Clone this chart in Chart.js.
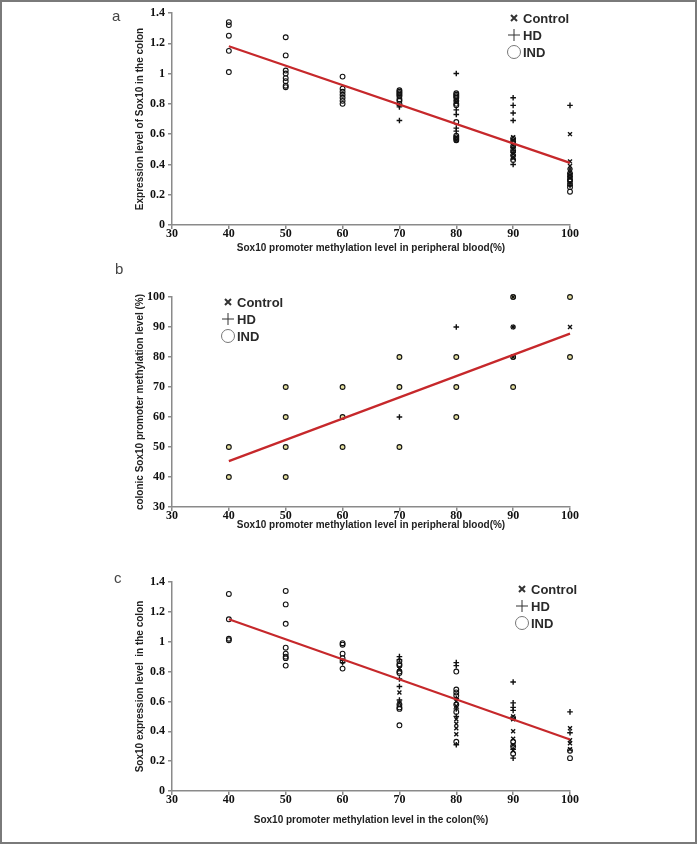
<!DOCTYPE html>
<html>
<head>
<meta charset="utf-8">
<script src="https://cdn.jsdelivr.net/npm/chart.js@4.4.0/dist/chart.umd.min.js"></script>
<style>
  body { margin: 0; background: #fff; position: relative; width: 697px; height: 844px; overflow: hidden; }
  canvas { position: absolute; left: 0; }
  #frame { position: absolute; left: 0; top: 0; width: 697px; height: 844px; box-sizing: border-box; border: 2px solid #7a7a7a; pointer-events: none; }
  .tag { position: absolute; font: 15px "Liberation Sans", Arial, sans-serif; color: #444; line-height: 1; }
</style>
</head>
<body>
<canvas id="chartA" width="697" height="260" style="top:0"></canvas>
<canvas id="chartB" width="697" height="271" style="top:260px"></canvas>
<canvas id="chartC" width="697" height="300" style="top:540px"></canvas>
<div class="tag" style="left:112px;top:8px">a</div>
<div class="tag" style="left:115px;top:261px">b</div>
<div class="tag" style="left:114px;top:570px">c</div>
<div id="frame"></div>
<script>
// x axis: methylation level (%)
const xTicks = [30, 40, 50, 60, 70, 80, 90, 100];

// panel a: methylation in blood vs Sox10 expression in colon
const aControl = [[80,0.83],[80,0.81],[80,0.58],[80,0.56],[90,0.58],[90,0.56],[90,0.53],[90,0.50],[90,0.47],[90,0.45],[90,0.44],
  [100,0.60],[100,0.42],[100,0.39],[100,0.35],[100,0.33],[100,0.31],[100,0.28]];
const aHD = [[70,0.79],[70,0.78],[70,0.69],[80,1.0],[80,0.76],[80,0.73],[80,0.64],[80,0.62],
  [90,0.84],[90,0.79],[90,0.74],[90,0.69],[90,0.51],[90,0.48],[90,0.40],[100,0.79],[100,0.37],[100,0.26]];
const aIND = [[40,1.34],[40,1.32],[40,1.25],[40,1.15],[40,1.01],
  [50,1.24],[50,1.12],[50,1.02],[50,1.0],[50,0.97],[50,0.95],[50,0.92],[50,0.91],
  [60,0.98],[60,0.90],[60,0.88],[60,0.86],[60,0.84],[60,0.82],[60,0.80],
  [70,0.89],[70,0.88],[70,0.87],[70,0.86],[70,0.85],[70,0.83],[70,0.82],[70,0.80],
  [80,0.87],[80,0.86],[80,0.85],[80,0.84],[80,0.82],[80,0.80],[80,0.79],[80,0.68],[80,0.59],[80,0.58],[80,0.57],[80,0.56],
  [90,0.57],[90,0.55],[90,0.52],[90,0.49],[90,0.46],[90,0.43],
  [100,0.34],[100,0.32],[100,0.30],[100,0.29],[100,0.27],[100,0.25],[100,0.22]];
const aFit = [[40,1.18],[100,0.41]];

// panel b: methylation in blood vs methylation in colon
const bControl = [[90,100],[90,90],[90,80],[100,90]];
const bHD = [[70,60],[80,90],[90,90]];
const bIND = [[40,50],[40,40],[50,70],[50,60],[50,50],[50,40],[60,70],[60,60],[60,50],
  [70,80],[70,70],[70,50],[80,80],[80,70],[80,60],[90,100],[90,80],[90,70],[100,100],[100,80]];
const bFit = [[40,45.3],[100,87.8]];

// panel c: methylation in colon vs Sox10 expression in colon
const cControl = [[70,0.82],[70,0.66],[70,0.59],[80,0.60],[80,0.57],[80,0.48],[80,0.45],[80,0.42],[80,0.38],
  [90,0.50],[90,0.48],[90,0.40],[90,0.35],[90,0.31],[90,0.27],[100,0.42],[100,0.34],[100,0.32],[100,0.28]];
const cHD = [[60,0.86],[70,0.90],[70,0.88],[70,0.75],[70,0.70],[70,0.61],[80,0.86],[80,0.84],[80,0.62],[80,0.55],[80,0.50],[80,0.31],
  [90,0.73],[90,0.59],[90,0.56],[90,0.54],[90,0.28],[90,0.22],[100,0.53],[100,0.39]];
const cIND = [[40,1.32],[40,1.15],[40,1.02],[40,1.01],
  [50,1.34],[50,1.25],[50,1.12],[50,0.96],[50,0.92],[50,0.90],[50,0.89],[50,0.84],
  [60,0.99],[60,0.98],[60,0.92],[60,0.89],[60,0.87],[60,0.82],
  [70,0.87],[70,0.85],[70,0.84],[70,0.80],[70,0.79],[70,0.58],[70,0.56],[70,0.55],[70,0.44],
  [80,0.80],[80,0.68],[80,0.66],[80,0.64],[80,0.58],[80,0.53],[80,0.33],
  [90,0.49],[90,0.33],[90,0.30],[90,0.25],[100,0.27],[100,0.22]];
const cFit = [[40,1.15],[100,0.345]];

const legendLabels = ['Control', 'HD', 'IND'];

const toPts = arr => arr.map(([x, y]) => ({ x, y }));
const ink = '#111';
const axisGray = '#8a8a8a';

// draws the x / + / o key at a fixed spot on the canvas
const markerLegend = {
  id: 'markerLegend',
  afterDraw(chart, args, opts) {
    const ctx = chart.ctx;
    const { x, y, gap } = opts;
    ctx.save();
    ctx.fillStyle = '#2a2a2a';
    ctx.font = 'bold 13px "Liberation Sans", Arial, sans-serif';
    ctx.textBaseline = 'middle';
    legendLabels.forEach((lab, i) => {
      const cy = y + i * gap;
      ctx.strokeStyle = i === 2 ? '#777' : '#333';
      ctx.beginPath();
      if (i === 0) {
        ctx.lineWidth = 2;
        ctx.moveTo(x - 3, cy - 3); ctx.lineTo(x + 3, cy + 3);
        ctx.moveTo(x + 3, cy - 3); ctx.lineTo(x - 3, cy + 3);
      } else if (i === 1) {
        ctx.lineWidth = 1;
        ctx.moveTo(x - 6, cy); ctx.lineTo(x + 6, cy);
        ctx.moveTo(x, cy - 6); ctx.lineTo(x, cy + 6);
      } else {
        ctx.lineWidth = 1;
        ctx.arc(x, cy, 6.5, 0, Math.PI * 2);
      }
      ctx.stroke();
      ctx.fillText(lab, x + 9, cy + 1);
    });
    ctx.restore();
  }
};

function pointSet(label, arr, style, order, fill) {
  return {
    type: 'scatter',
    label: label,
    order: order,
    data: toPts(arr),
    pointStyle: style,
    pointRadius: style === 'circle' ? 2.4 : 2.8,
    pointBorderWidth: style === 'circle' ? 1.1 : 1.4,
    pointBorderColor: ink,
    pointBackgroundColor: fill || 'rgba(255,255,255,0)',
    clip: false
  };
}

function makePanel(id, p) {
  new Chart(document.getElementById(id), {
    type: 'scatter',
    data: {
      datasets: [
        pointSet('IND', p.ind, 'circle', 3, p.indFill),
        pointSet('HD', p.hd, 'cross', 2),
        pointSet('Control', p.control, 'crossRot', 1),
        {
          type: 'line',
          label: 'fit',
          order: 0,
          data: toPts(p.fit),
          borderColor: '#c6282b',
          borderWidth: 2.2,
          pointRadius: 0,
          fill: false,
          clip: false
        }
      ]
    },
    options: {
      responsive: false,
      animation: false,
      layout: { padding: { left: 128, right: 127, top: p.top, bottom: 0 } },
      plugins: {
        legend: { display: false },
        tooltip: { enabled: false },
        markerLegend: p.legend
      },
      scales: {
        x: {
          type: 'linear',
          min: 30, max: 100,
          afterFit: s => { s.height = p.xh; },
          afterBuildTicks: s => { s.ticks = xTicks.map(v => ({ value: v })); },
          ticks: { font: { family: '"Liberation Serif", "Times New Roman", serif', size: 12, weight: 'bold' }, color: ink, padding: -2, maxRotation: 0 },
          grid: { drawOnChartArea: false, color: axisGray, lineWidth: 1.5, tickLength: 4 },
          border: { color: axisGray, width: 1.5 },
          title: { display: true, text: p.xTitle, color: '#222',
            font: { family: '"Liberation Sans", Arial, sans-serif', size: 10, weight: 'bold' },
            padding: { top: 0, bottom: p.xtb } }
        },
        y: {
          type: 'linear',
          min: p.yMin, max: p.yMax,
          afterFit: s => { s.width = 44; },
          afterBuildTicks: s => { s.ticks = p.yTicks.map(v => ({ value: v })); },
          ticks: { font: { family: '"Liberation Serif", "Times New Roman", serif', size: 12, weight: 'bold' }, color: ink, padding: 3,
            callback: v => String(parseFloat(v.toFixed(1))) },
          grid: { drawOnChartArea: false, color: axisGray, lineWidth: 1.5, tickLength: 4 },
          border: { color: axisGray, width: 1.5 },
          title: { display: true, text: p.yTitle, color: '#222',
            font: { family: '"Liberation Sans", Arial, sans-serif', size: 10, weight: 'bold' },
            padding: { top: 6, bottom: 0 } }
        }
      }
    },
    plugins: [markerLegend]
  });
}

const exprTicks = [0, 0.2, 0.4, 0.6, 0.8, 1, 1.2, 1.4];
const methTicks = [30, 40, 50, 60, 70, 80, 90, 100];

makePanel('chartA', {
  control: aControl, hd: aHD, ind: aIND, fit: aFit,
  yMin: 0, yMax: 1.4, yTicks: exprTicks,
  top: 13, xh: 35, xtb: 6,
  xTitle: 'Sox10 promoter methylation level in peripheral blood(%)',
  yTitle: 'Expression level of Sox10 in the colon',
  legend: { x: 514, y: 18, gap: 17 }
});

makePanel('chartB', {
  control: bControl, hd: bHD, ind: bIND, fit: bFit, indFill: '#e4dfa0',
  yMin: 30, yMax: 100, yTicks: methTicks,
  top: 37, xh: 24, xtb: 0,
  xTitle: 'Sox10 promoter methylation level in peripheral blood(%)',
  yTitle: 'colonic Sox10 promoter methylation level (%)',
  legend: { x: 228, y: 42, gap: 17 }
});

makePanel('chartC', {
  control: cControl, hd: cHD, ind: cIND, fit: cFit,
  yMin: 0, yMax: 1.4, yTicks: exprTicks,
  top: 42, xh: 49, xtb: 14,
  xTitle: 'Sox10 promoter methylation level in the colon(%)',
  yTitle: 'Sox10 expression level  in the colon',
  legend: { x: 522, y: 49, gap: 17 }
});
</script>
</body>
</html>
